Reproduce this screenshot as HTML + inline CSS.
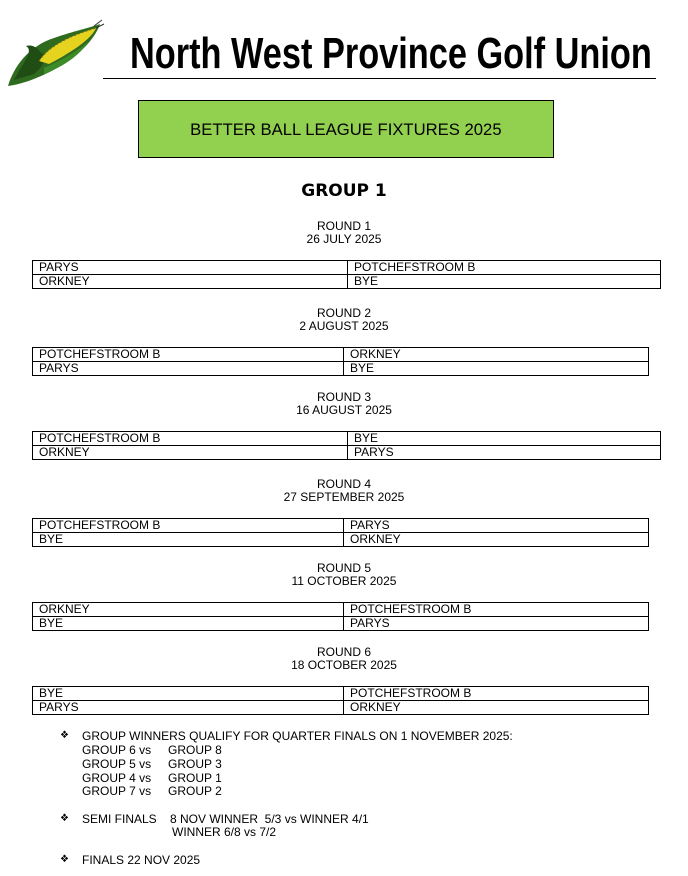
<!DOCTYPE html>
<html><head><meta charset="utf-8">
<style>
body{margin:0;width:688px;height:876px;background:#fff;position:relative;overflow:hidden;font-family:"Liberation Sans",Arial,sans-serif;color:#000}
.a{position:absolute;white-space:nowrap}
.c{position:absolute;left:0;width:688px;text-align:center;font-size:12px;line-height:13px}
table{position:absolute;border-collapse:collapse;font-size:12px;table-layout:fixed}
td{border:1px solid #000;height:13px;padding:0 0 0 6px;line-height:13px;vertical-align:middle}
.t{font-size:12px;line-height:14px}
</style></head><body>
<svg class="a" style="left:4px;top:16px" width="102" height="74" viewBox="0 0 102 74">
<path d="M4 70 C10 50 25 30 50 22 C70 15 85 12 96 8 C92 20 80 35 60 48 C40 60 20 68 4 70Z" fill="#2f6b1e"/>
<path d="M10 64 C20 45 30 35 22 30 C28 28 34 32 36 36 C45 40 40 50 30 58Z" fill="#1f4d14"/>
<path d="M35 45 C45 30 65 20 92 12 C88 22 70 35 45 48Z" fill="#e6d31f"/>
<path d="M35 45 C45 30 65 20 92 12" stroke="#6b6a10" stroke-width="1" fill="none" stroke-dasharray="2 2"/>
<path d="M40 52 C55 45 70 38 85 25 C75 40 60 50 40 58Z" fill="#3d8a28"/>
<path d="M90 10 L98 4 M92 12 L100 8" stroke="#333" stroke-width="1"/>
</svg>
<div class="a" style="left:130px;top:30px;font-size:44px;font-weight:bold;line-height:48px;transform:scaleX(0.78);transform-origin:left top">North West Province Golf Union</div>
<div class="a" style="left:103px;top:78px;width:553px;height:1px;background:#000"></div>
<div class="a" style="left:138px;top:100px;width:414px;height:56px;background:#92d050;border:1px solid #000;text-align:center;line-height:57px;font-size:17px"><span style="display:inline-block;transform:scaleX(0.98)">BETTER BALL LEAGUE FIXTURES 2025</span></div>
<div class="c" style="top:182px;font-size:17px;line-height:18px;font-weight:bold;font-family:'DejaVu Sans',sans-serif">GROUP 1</div>

<div class="c" style="top:220px">ROUND 1<br>26 JULY 2025</div>
<table style="left:32px;top:260px;width:629px"><col style="width:315px"><col><tr><td>PARYS</td><td>POTCHEFSTROOM B</td></tr><tr><td>ORKNEY</td><td>BYE</td></tr></table>

<div class="c" style="top:307px">ROUND 2<br>2 AUGUST 2025</div>
<table style="left:32px;top:347px;width:617px"><col style="width:311px"><col><tr><td>POTCHEFSTROOM B</td><td>ORKNEY</td></tr><tr><td>PARYS</td><td>BYE</td></tr></table>

<div class="c" style="top:391px">ROUND 3<br>16 AUGUST 2025</div>
<table style="left:32px;top:431px;width:629px"><col style="width:315px"><col><tr><td>POTCHEFSTROOM B</td><td>BYE</td></tr><tr><td>ORKNEY</td><td>PARYS</td></tr></table>

<div class="c" style="top:478px">ROUND 4<br>27 SEPTEMBER 2025</div>
<table style="left:32px;top:518px;width:617px"><col style="width:311px"><col><tr><td>POTCHEFSTROOM B</td><td>PARYS</td></tr><tr><td>BYE</td><td>ORKNEY</td></tr></table>

<div class="c" style="top:562px">ROUND 5<br>11 OCTOBER 2025</div>
<table style="left:32px;top:602px;width:617px"><col style="width:311px"><col><tr><td>ORKNEY</td><td>POTCHEFSTROOM B</td></tr><tr><td>BYE</td><td>PARYS</td></tr></table>

<div class="c" style="top:646px">ROUND 6<br>18 OCTOBER 2025</div>
<table style="left:32px;top:686px;width:617px"><col style="width:311px"><col><tr><td>BYE</td><td>POTCHEFSTROOM B</td></tr><tr><td>PARYS</td><td>ORKNEY</td></tr></table>

<div class="a t" style="left:60px;top:729px;font-size:10px">❖</div>
<div class="a t" style="left:82px;top:729px">GROUP WINNERS QUALIFY FOR QUARTER FINALS ON 1 NOVEMBER 2025:</div>
<div class="a t" style="left:82px;top:743px">GROUP 6 vs</div><div class="a t" style="left:168px;top:743px">GROUP 8</div>
<div class="a t" style="left:82px;top:757px">GROUP 5 vs</div><div class="a t" style="left:168px;top:757px">GROUP 3</div>
<div class="a t" style="left:82px;top:771px">GROUP 4 vs</div><div class="a t" style="left:168px;top:771px">GROUP 1</div>
<div class="a t" style="left:82px;top:784px">GROUP 7 vs</div><div class="a t" style="left:168px;top:784px">GROUP 2</div>
<div class="a t" style="left:60px;top:812px;font-size:10px">❖</div>
<div class="a t" style="left:82px;top:812px">SEMI FINALS</div>
<div class="a t" style="left:170px;top:812px">8 NOV WINNER&nbsp; 5/3 vs WINNER 4/1</div>
<div class="a t" style="left:172px;top:825px">WINNER 6/8 vs 7/2</div>
<div class="a t" style="left:60px;top:853px;font-size:10px">❖</div>
<div class="a t" style="left:82px;top:853px">FINALS 22 NOV 2025</div>
</body></html>
